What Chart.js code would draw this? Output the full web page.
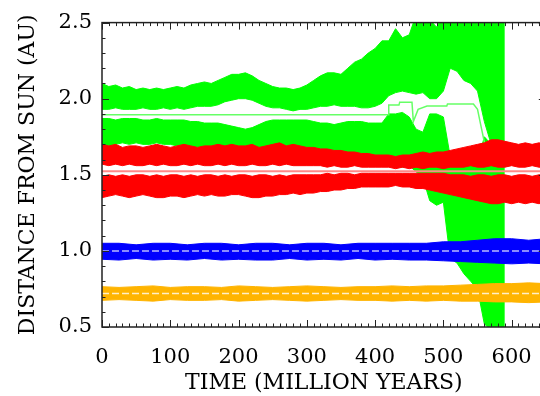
<!DOCTYPE html>
<html><head><meta charset="utf-8">
<script src="https://cdn.jsdelivr.net/npm/chart.js@4"></script>
<style>html,body{margin:0;padding:0;overflow:hidden;background:#fff;width:540px;height:396px}canvas{display:block}</style>
</head><body><canvas id="c" width="550" height="396"></canvas>
<script>
// ---------- DATA ----------
const xTickValues = [0, 100, 200, 300, 400, 500, 600];
const xTickLabels = ['0', '100', '200', '300', '400', '500', '600'];
const yTickValues = [0.5, 1.0, 1.5, 2.0, 2.5];
const yTickLabels = ['0.5', '1.0', '1.5', '2.0', '2.5'];
const xTitle = 'TIME (MILLION YEARS)';
const yTitle = 'DISTANCE FROM SUN (AU)';

// Venus / Earth envelopes (every 25 Myr)
const evT = [0,25,50,75,100,125,150,175,200,225,250,275,300,325,350,375,400,425,450,475,500,525,550,575,600,625,650];
const venusTop = [0.765,0.76,0.765,0.77,0.76,0.765,0.765,0.76,0.77,0.765,0.76,0.765,0.77,0.765,0.76,0.765,0.765,0.77,0.765,0.77,0.77,0.775,0.78,0.785,0.785,0.79,0.785];
const venusBot = [0.675,0.68,0.675,0.67,0.68,0.675,0.675,0.68,0.67,0.675,0.68,0.675,0.67,0.675,0.68,0.675,0.675,0.67,0.675,0.67,0.675,0.67,0.67,0.665,0.665,0.66,0.665];
const earthTop = [1.05,1.05,1.04,1.05,1.05,1.04,1.05,1.05,1.04,1.05,1.05,1.04,1.05,1.05,1.04,1.05,1.05,1.05,1.05,1.05,1.06,1.06,1.07,1.08,1.08,1.07,1.08];
const earthBot = [0.945,0.94,0.95,0.94,0.945,0.94,0.95,0.94,0.945,0.94,0.94,0.95,0.94,0.945,0.94,0.95,0.94,0.945,0.94,0.94,0.935,0.93,0.925,0.92,0.915,0.92,0.915];
const meanT = [0, 650];
const venusA = [0.72, 0.72];
const earthA = [1.0, 1.0];
const marsA = [1.524, 1.524];

// Mars envelopes (every 10 Myr)
const marsT = [0,10,20,30,40,50,60,70,80,90,100,110,120,130,140,150,160,170,180,190,200,210,220,230,240,250,260,270,280,290,300,310,320,330,340,350,360,370,380,390,400,410,420,430,440,450,460,470,480,490,500,510,520,530,540,550,560,570,580,590,600,610,620,630,640,650];
const marsApoTop = [1.70,1.69,1.70,1.68,1.69,1.69,1.68,1.69,1.70,1.69,1.68, 1.69,1.70,1.69,1.68,1.69,1.69,1.70,1.69,1.70,1.69, 1.69,1.70,1.68,1.69,1.70,1.71,1.69,1.70,1.69,1.68, 1.68,1.67,1.67,1.66,1.66,1.65,1.65,1.64,1.64,1.63, 1.63,1.63,1.62,1.63,1.63,1.64,1.65,1.64,1.65,1.65, 1.66,1.67,1.68,1.69,1.70,1.71,1.73,1.73,1.72,1.71, 1.70,1.71,1.70,1.71,1.70];
const marsApoBot = [1.57,1.56,1.57,1.56,1.57,1.56,1.56,1.57,1.56,1.57,1.56, 1.56,1.57,1.56,1.57,1.56,1.56,1.57,1.56,1.57,1.56, 1.56,1.57,1.56,1.56,1.57,1.56,1.57,1.56,1.56,1.56, 1.56,1.56,1.55,1.56,1.55,1.55,1.56,1.55,1.55,1.55, 1.55,1.55,1.54,1.55,1.54,1.55,1.54,1.55,1.55,1.54, 1.55,1.55,1.55,1.56,1.55,1.55,1.56,1.55,1.55,1.56, 1.55,1.55,1.56,1.55,1.55];
const marsPeriTop = [1.49,1.50,1.49,1.50,1.49,1.50,1.50,1.49,1.50,1.49,1.50, 1.50,1.49,1.50,1.49,1.50,1.50,1.49,1.50,1.49,1.50, 1.50,1.49,1.50,1.50,1.49,1.50,1.49,1.50,1.50,1.50, 1.50,1.50,1.51,1.50,1.51,1.51,1.50,1.51,1.51,1.51, 1.51,1.51,1.51,1.51,1.51,1.51,1.51,1.51,1.51,1.51, 1.50,1.50,1.50,1.49,1.50,1.50,1.49,1.50,1.50,1.49, 1.50,1.50,1.49,1.50,1.50];
const marsPeriBot = [1.35,1.36,1.37,1.36,1.35,1.36,1.37,1.36,1.35,1.35,1.36, 1.36,1.35,1.36,1.37,1.36,1.37,1.36,1.36,1.37,1.37, 1.36,1.35,1.35,1.36,1.36,1.37,1.37,1.38,1.37,1.38, 1.38,1.39,1.39,1.40,1.40,1.41,1.41,1.42,1.42,1.42, 1.42,1.42,1.43,1.42,1.42,1.41,1.41,1.40,1.39,1.38, 1.37,1.36,1.35,1.34,1.33,1.32,1.31,1.31,1.32,1.31, 1.32,1.31,1.32,1.31,1.32];

// Green body envelopes (every 10 Myr, ends ~590 Myr)
const greenT = [0,10,20,30,40,50,60,70,80,90,100,110,120,130,140,150,160,170,180,190,200,210,220,230,240,250,260,270,280,290,300,310,320,330,340,350,360,370,380,390,400,410,420,430,440,450,460,470,480,490,500,510,520,530,540,550,560,570,580,590];
const greenApoTop = [2.10,2.08,2.09,2.07,2.08,2.06,2.07,2.06,2.07,2.06, 2.07,2.08,2.07,2.09,2.10,2.11,2.10,2.12,2.14,2.16, 2.16,2.17,2.15,2.12,2.10,2.08,2.07,2.07,2.06,2.07, 2.09,2.12,2.15,2.17,2.17,2.16,2.20,2.24,2.26,2.30, 2.33,2.38,2.38,2.46,2.40,2.42,2.55,2.55,2.52,2.47, 2.55,2.55,2.55,2.55,2.55,2.55,2.55,2.55,2.55,2.55];
const greenApoBot = [1.93,1.93,1.94,1.93,1.93,1.93,1.94,1.93,1.93,1.94, 1.93,1.94,1.93,1.94,1.95,1.95,1.95,1.96,1.98,1.99, 2.00,2.00,1.99,1.97,1.95,1.94,1.94,1.93,1.92,1.93, 1.93,1.94,1.95,1.95,1.96,1.95,1.95,1.95,1.94,1.94, 1.95,1.97,2.02,2.04,2.05,2.04,2.03,2.04,2.00,2.00, 2.05,2.20,2.18,2.12,2.10,2.05,1.85,1.70,1.60,1.60];
const greenPeriTop = [1.87,1.87,1.86,1.87,1.87,1.87,1.86,1.86,1.87,1.86, 1.86,1.86,1.86,1.85,1.85,1.84,1.84,1.84,1.83,1.82, 1.81,1.80,1.81,1.83,1.85,1.86,1.86,1.86,1.86,1.86, 1.86,1.85,1.84,1.84,1.83,1.84,1.85,1.85,1.85,1.84, 1.84,1.84,1.90,1.90,1.91,1.88,1.80,1.78,1.90,1.90, 1.88,1.62,1.62,1.60,1.60,1.58,1.75,1.70,1.60,1.55];
const greenPeriBot = [1.70,1.69,1.70,1.71,1.70,1.71,1.70,1.70,1.71,1.70, 1.70,1.69,1.70,1.68,1.68,1.67,1.67,1.66,1.65,1.64, 1.63,1.62,1.63,1.65,1.67,1.68,1.68,1.68,1.67,1.67, 1.66,1.65,1.64,1.63,1.62,1.62,1.61,1.61,1.60,1.59, 1.58,1.57,1.58,1.56,1.55,1.56,1.52,1.48,1.33,1.30, 1.32,0.95,0.92,0.85,0.80,0.75,0.52,0.48,0.48,0.48];
const greenAT = [0,419,420,435,436,454,456,463,476,505,506,544,550,556,564];
const greenA  = [1.895,1.895,1.958,1.958,1.977,1.977,1.85,1.93,1.952,1.952,1.965,1.965,1.93,1.80,1.63];

// ---------- BUILD ----------
const FAMILY = '"DejaVu Serif", "Liberation Serif", serif';
const TICKFONT = {family: FAMILY, size: 21, weight: 'normal', lineHeight: 1.2};
const TITLEFONT = {family: FAMILY, size: 22, weight: 'normal', lineHeight: 1.2};
const pts = (t, v) => t.map((x, i) => ({x: x, y: v[i]}));
const datasets = [];
function band(t, top, bot, color, order) {
  const lowIdx = datasets.length;
  datasets.push({data: pts(t, bot), borderColor: color, backgroundColor: color, borderWidth: 1, fill: false, order: order});
  datasets.push({data: pts(t, top), borderColor: color, backgroundColor: color, borderWidth: 1, fill: lowIdx, order: order});
}
function line(t, v, color, width, dash, order) {
  datasets.push({data: pts(t, v), borderColor: color, borderWidth: width, borderDash: dash, fill: false, order: order});
}
band(greenT, greenApoTop, greenApoBot, '#00FF00', 10);
band(greenT, greenPeriTop, greenPeriBot, '#00FF00', 10);
line(greenAT, greenA, '#66FF66', 1.5, [], 9);
band(evT, venusTop, venusBot, '#FFB400', 6);
line(meanT, venusA, '#FFEFC8', 1.5, [7, 3], 5);
band(evT, earthTop, earthBot, '#0000FF', 4);
line(meanT, earthA, '#B8B8FF', 1.5, [7, 3], 3);
band(marsT, marsApoTop, marsApoBot, '#FF0000', 2);
band(marsT, marsPeriTop, marsPeriBot, '#FF0000', 2);
line(meanT, marsA, '#FF8888', 2, [], 1);

const frame = {
  id: 'frame',
  afterDraw(chart) {
    const {ctx, chartArea: a, scales: {x, y}} = chart;
    ctx.save();
    ctx.strokeStyle = '#222';
    ctx.lineWidth = 1.5;
    ctx.strokeRect(a.left, a.top, a.right - a.left, a.bottom - a.top);
    ctx.lineWidth = 1;
    ctx.beginPath();
    for (let k = 0; k <= 65; k++) {
      const px = Math.round(x.getPixelForValue(k * 10)) + 0.5;
      const len = (k % 10 === 0) ? 7 : 3.5;
      ctx.moveTo(px, a.bottom); ctx.lineTo(px, a.bottom - len);
      ctx.moveTo(px, a.top); ctx.lineTo(px, a.top + len);
    }
    for (let k = 5; k <= 25; k++) {
      const py = Math.round(y.getPixelForValue(k / 10)) + 0.5;
      const len = (k % 5 === 0) ? 7 : 3.5;
      ctx.moveTo(a.left, py); ctx.lineTo(a.left + len, py);
      ctx.moveTo(a.right, py); ctx.lineTo(a.right - len, py);
    }
    ctx.stroke();
    ctx.restore();
  }
};

new Chart(document.getElementById('c'), {
  type: 'line',
  data: {datasets: datasets},
  options: {
    responsive: false,
    animation: false,
    layout: {padding: {top: 14, right: 4, left: 0, bottom: 0}},
    plugins: {legend: {display: false}, tooltip: {enabled: false}},
    elements: {point: {radius: 0}, line: {tension: 0}},
    scales: {
      x: {
        type: 'linear', min: 0, max: 650,
        grid: {display: false, drawTicks: false},
        border: {display: false},
        afterBuildTicks: s => { s.ticks = xTickValues.map(v => ({value: v})); },
        afterFit: s => { s.height = 69; },
        ticks: {padding: 18, color: '#000', font: TICKFONT, maxRotation: 0, autoSkip: false,
                callback: v => { const i = xTickValues.indexOf(v); return i >= 0 ? xTickLabels[i] : ''; }},
        title: {display: true, text: xTitle, color: '#000', font: TITLEFONT, padding: {top: 0, bottom: 0}}
      },
      y: {
        type: 'linear', min: 0.5, max: 2.5,
        grid: {display: false, drawTicks: false},
        border: {display: false},
        afterBuildTicks: s => { s.ticks = yTickValues.map(v => ({value: v})); },
        afterFit: s => { s.width = 102; },
        ticks: {padding: 10, color: '#000', font: TICKFONT, autoSkip: false,
                callback: v => { const i = yTickValues.findIndex(t => Math.abs(t - v) < 1e-9); return i >= 0 ? yTickLabels[i] : ''; }},
        title: {display: true, text: yTitle, color: '#000', font: TITLEFONT, padding: {top: 15, bottom: 0}}
      }
    }
  },
  plugins: [frame]
});
</script></body></html>
